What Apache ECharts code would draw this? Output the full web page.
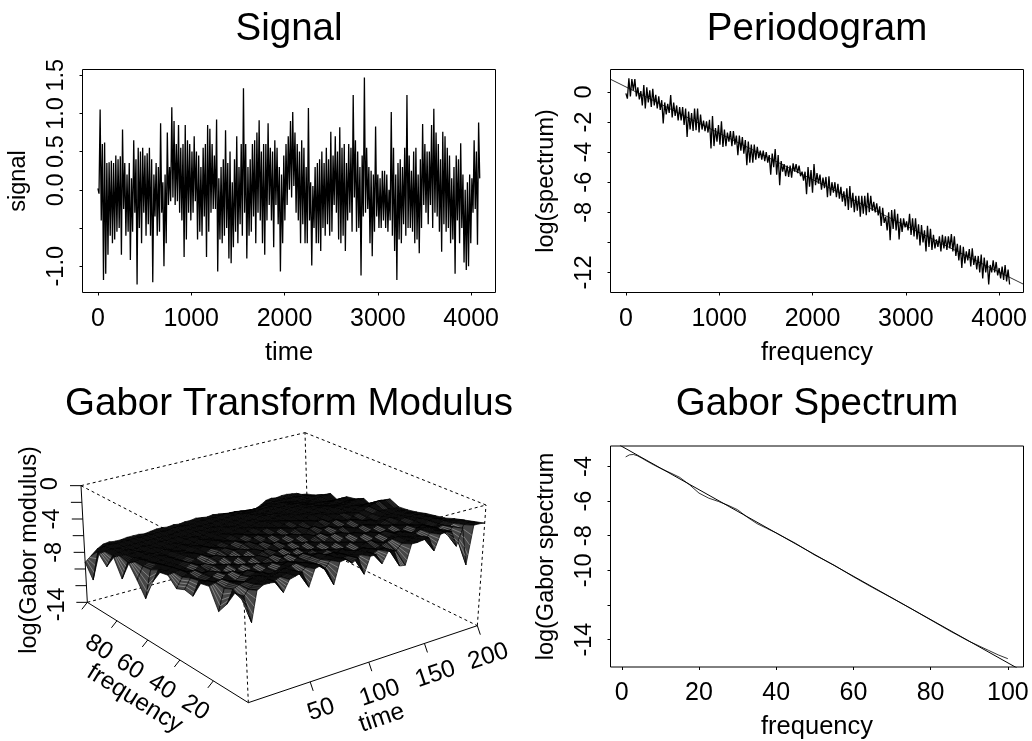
<!DOCTYPE html>
<html><head><meta charset="utf-8">
<style>html,body{margin:0;padding:0;background:#fff}#c{width:1032px;height:741px}</style>
<script src="https://cdn.jsdelivr.net/npm/echarts@6/dist/echarts.min.js"></script>
</head><body><div id="c"></div>
<script>
// ---------- data ----------
const signalStep = 24;
const signalHigh = [
0.02,1.05,0.6,0.62,0.35,0.36,0.38,0.35,0.45,0.4,
0.44,0.79,0.35,0.2,0.35,0.15,0.65,0.4,0.55,0.5,
0.55,0.45,0.48,0.55,0.4,0.2,0.35,0.3,0.87,0.1,
0.2,0.75,0.3,1.08,0.9,0.6,0.85,0.55,0.6,0.85,
0.65,0.6,0.5,0.7,0.5,0.45,0.3,0.55,0.6,0.85,
0.8,0.6,0.45,0.92,0.15,0.3,0.4,0.78,0.35,0.5,
0.1,0.4,0.7,0.3,0.6,1.33,0.6,0.3,0.4,0.6,
0.65,0.75,0.91,0.5,0.6,0.6,0.87,0.55,0.5,0.65,
0.55,0.3,0.2,0.45,0.6,0.7,0.9,1.02,0.75,0.6,
0.5,0.65,0.55,0.3,1.07,0.1,0.05,0.3,0.35,0.4,
0.5,0.35,0.55,0.4,0.76,0.45,0.7,0.5,0.82,0.55,
0.6,0.35,0.6,0.55,1.24,0.65,0.5,0.3,0.45,1.47,
0.55,0.3,0.25,0.2,0.83,0.2,0.15,0.25,0.25,0.2,
0.0,1.02,0.55,0.2,0.35,0.4,0.3,0.55,1.24,0.45,
0.25,0.5,0.55,0.2,0.4,0.86,0.6,0.5,0.5,0.85,
1.06,0.75,0.6,0.4,0.76,0.7,0.55,0.45,0.15,0.3,
0.45,0.4,0.61,0.2,0.0,0.1,0.2,0.15,0.65,0.5,
0.88];
const signalLow = [
-0.05,-0.4,-1.18,-1.1,-0.85,-0.6,-0.7,-0.65,-0.55,-0.5,
-0.85,-0.25,-0.6,-0.55,-0.92,-0.55,-0.3,-1.24,-0.5,-0.7,
-0.3,-0.6,-0.45,-0.6,-1.21,-0.35,-0.6,-0.55,-0.3,-1.0,
-0.7,-0.2,-0.15,-0.1,-0.2,-0.15,-0.3,-0.4,-0.88,-0.65,
-0.3,-0.4,-0.3,-0.15,-0.65,-0.55,-0.6,-0.35,-0.88,-0.55,
-0.3,-0.25,-0.25,-1.07,-0.65,-0.7,-0.6,-0.5,-0.9,-0.96,
-0.75,-0.55,-0.7,-0.45,-0.6,-0.3,-0.9,-0.6,-0.55,-0.35,
-0.7,-0.3,-0.4,-0.7,-0.85,-0.4,-0.2,-0.4,-0.75,-0.2,
-0.45,-1.07,-0.7,-0.4,-0.2,0.0,-0.1,0.05,-0.3,-0.4,
-0.7,-0.45,-0.7,-0.7,-0.4,-0.99,-0.5,-0.7,-0.7,-0.8,
-0.5,-0.6,-0.45,-0.6,-0.55,-0.2,-0.3,-0.65,-0.7,-0.6,
-0.8,-0.4,-0.3,-0.55,-0.1,-0.55,-0.5,-1.12,-0.35,-0.3,
-0.25,-0.7,-0.87,-0.55,-0.35,-0.5,-0.5,-0.4,-0.5,-0.55,
-0.4,-0.6,-0.8,-1.18,-0.65,-0.7,-0.45,-0.6,-0.5,-0.5,
-0.55,-0.7,-0.65,-0.83,-0.5,-0.2,-0.3,-0.45,-0.2,-0.5,
-0.3,-0.35,-0.55,-0.81,-0.45,-0.55,-0.5,-0.7,-0.65,-1.1,
-0.4,-0.7,-0.5,-0.95,-1.05,-1.0,-0.7,-0.3,-0.25,-0.72,
0.15];
const periodStep = 32;
const periodHigh = [
-0.1,0.9,0.85,0.85,0.3,0.05,0.45,0.3,0.1,0.2,
-0.2,-0.3,-0.55,-0.7,-0.8,-0.2,-0.7,-0.9,-1.0,-1.0,
-1.1,-1.3,-1.4,-1.1,-1.1,-1.5,-1.9,-1.95,-1.85,-1.6,
-2.4,-2.2,-1.95,-2.5,-2.7,-2.6,-2.6,-2.9,-2.9,-3.0,
-3.2,-3.3,-3.5,-3.5,-3.65,-3.9,-3.9,-4.0,-4.2,-4.1,
-3.8,-4.2,-4.6,-4.8,-4.9,-4.9,-4.75,-4.8,-4.9,-5.3,
-5.3,-5.0,-5.2,-4.8,-5.4,-5.5,-5.7,-5.65,-5.6,-6.0,
-6.0,-6.1,-6.3,-6.6,-6.4,-6.25,-6.7,-6.9,-6.9,-6.9,
-6.9,-6.7,-6.9,-7.3,-7.4,-7.6,-7.7,-8.3,-8.0,-7.85,
-7.8,-8.1,-8.4,-8.4,-8.6,-8.1,-8.4,-8.4,-8.8,-8.85,
-9.2,-8.9,-9.1,-9.5,-9.8,-9.6,-9.5,-9.6,-9.6,-9.45,
-9.6,-10.1,-10.2,-10.3,-10.6,-10.45,-10.4,-10.9,-10.9,-10.8,
-11.0,-11.2,-11.5,-11.2,-11.3,-11.7,-11.6,-11.5,-11.8];
const periodLow = [
-0.45,-0.3,0.1,-0.3,-0.5,-0.9,-1.1,-0.7,-1.0,-0.9,
-1.1,-1.2,-2.1,-1.5,-1.4,-1.7,-1.6,-1.9,-1.9,-2.2,
-3.0,-2.5,-2.6,-2.55,-2.7,-2.5,-2.6,-2.7,-3.75,-3.6,
-3.3,-3.5,-3.65,-3.6,-3.3,-3.6,-3.5,-4.2,-3.9,-4.1,
-4.87,-4.7,-4.7,-4.5,-4.4,-4.5,-4.6,-4.7,-5.5,-5.0,
-5.5,-6.2,-5.3,-5.6,-5.65,-5.7,-5.3,-5.4,-5.6,-5.9,
-6.8,-6.3,-6.7,-6.2,-6.1,-6.5,-6.4,-7.0,-6.9,-6.7,
-7.0,-7.1,-7.3,-7.6,-7.85,-7.7,-8.0,-7.9,-8.3,-8.1,
-8.2,-8.0,-7.9,-8.0,-8.2,-8.9,-8.7,-9.2,-9.85,-9.1,
-9.2,-9.8,-9.3,-9.0,-9.2,-9.5,-9.6,-9.8,-10.2,-10.0,
-10.6,-10.3,-10.5,-10.4,-10.3,-10.6,-10.4,-10.5,-10.4,-10.6,
-10.9,-11.2,-11.7,-11.4,-11.2,-11.6,-11.5,-11.8,-12.0,-12.4,
-12.0,-12.8,-12.0,-12.0,-12.2,-12.4,-12.5,-12.6,-12.8];
const periodFitX = [-165, 4261];
const periodFitY = [0.84, -12.78];

const gaborFreq = [1,2,3,4,5,7.5,10,12.5,15,17.5,20,22.5,25,27.5,30,32.5,35,37.5,40,45,50,55,60,65,70,75,80,85,90,95,97.5,100];
const gaborSpec = [-3.45,-3.33,-3.31,-3.38,-3.5,-3.82,-4.11,-4.36,-4.63,-5.05,-5.54,-5.83,-6.02,-6.24,-6.5,-6.93,-7.3,-7.57,-7.84,-8.44,-9.12,-9.7,-10.37,-11.0,-11.6,-12.22,-12.86,-13.5,-14.1,-14.62,-14.88,-15.1];
const gaborFitX = [-0.5, 102.4];
const gaborFitY = [-2.78, -15.64];

// Surface heights: one row per frequency (0,5,...,100), one value per time (0,5,...,200)
const surfTimeStep = 5, surfFreqStep = 5;
const surface = [
[-2.8,-5.8,-2.6,-2.2,-2.2,-2.3,-3.6,-2.4,-2.2,-2.0,-3.8,-2.0,-1.8,-2.6,-4.3,-2.0,-1.9,-2.5,-2.1,-4.1,-2.3,-2.3,-3.5,-2.3,-2.4,-4.3,-4.4,-2.2,-2.2,-2.1,-2.0,-3.7,-2.0,-1.9,-2.0,-3.9,-2.0,-6.4,-2.0,-2.0,-2.1],
[-3.0,-3.9,-3.0,-2.6,-2.5,-2.5,-2.9,-2.6,-2.4,-2.3,-2.9,-2.3,-2.1,-2.4,-3.1,-2.3,-2.2,-2.4,-2.4,-3.0,-2.6,-2.5,-2.9,-2.6,-2.6,-3.2,-3.3,-2.6,-2.5,-2.4,-2.3,-2.9,-2.3,-2.2,-2.3,-3.0,-2.3,-4.0,-2.4,-2.3,-2.4],
[-4.7,-3.3,-3.0,-2.9,-2.7,-2.6,-2.9,-3.1,-2.9,-2.6,-2.5,-2.4,-2.5,-2.8,-3.0,-2.7,-2.4,-2.3,-2.6,-2.9,-3.1,-2.8,-2.7,-3.0,-3.2,-3.0,-2.8,-2.6,-2.5,-2.7,-2.9,-2.7,-2.4,-2.3,-2.5,-2.8,-2.6,-3.0,-2.7,-2.5,-2.7],
[-6.0,-3.7,-3.2,-3.4,-3.6,-3.2,-2.9,-3.1,-3.5,-3.4,-2.9,-2.7,-2.9,-3.3,-3.2,-2.8,-2.7,-3.1,-3.5,-3.2,-2.9,-3.3,-3.6,-3.3,-2.9,-2.9,-3.3,-3.5,-3.1,-2.8,-2.7,-3.0,-3.3,-2.9,-2.7,-3.0,-3.3,-3.1,-2.9,-3.0,-3.0],
[-3.8,-3.6,-3.4,-3.8,-4.0,-3.5,-3.2,-3.6,-3.9,-3.5,-3.1,-3.3,-3.7,-3.8,-3.3,-3.0,-3.3,-3.8,-3.7,-3.3,-3.5,-3.9,-3.6,-3.2,-3.4,-3.8,-3.9,-3.4,-3.1,-3.0,-3.4,-3.7,-3.4,-3.0,-3.2,-3.6,-3.5,-3.2,-3.1,-3.3,-3.4],
[-4.0,-3.9,-4.2,-4.3,-3.8,-3.6,-4.0,-4.3,-3.8,-3.5,-3.7,-4.1,-4.1,-3.6,-3.4,-3.8,-4.2,-3.9,-3.6,-3.9,-4.2,-3.9,-3.5,-3.7,-4.1,-4.2,-3.7,-3.4,-3.4,-3.8,-4.0,-3.6,-3.3,-3.5,-3.9,-3.8,-3.5,-3.4,-3.3,-3.5,-3.6],
[-5.9,-4.4,-4.6,-4.4,-4.0,-4.3,-4.7,-4.3,-3.9,-4.1,-4.5,-4.3,-3.9,-3.8,-4.2,-4.5,-4.1,-3.8,-4.2,-4.5,-4.2,-3.8,-4.0,-4.4,-4.5,-4.0,-3.7,-3.8,-4.2,-4.3,-3.9,-3.6,-3.8,-4.2,-4.1,-3.8,-3.6,-3.7,-3.6,-3.7,-3.8],
[-5.7,-4.6,-4.9,-4.5,-4.4,-4.9,-4.8,-4.2,-4.5,-4.9,-4.6,-4.1,-4.2,-4.7,-4.7,-4.3,-4.1,-4.5,-4.8,-4.4,-4.1,-4.3,-4.7,-4.7,-4.2,-4.0,-4.1,-4.6,-4.6,-4.1,-3.9,-4.1,-4.5,-4.4,-4.0,-3.9,-4.1,-4.0,-3.9,-4.0,-4.1],
[-6.1,-5.0,-4.8,-4.6,-5.1,-5.2,-4.6,-4.8,-5.2,-4.9,-4.4,-4.6,-5.1,-4.9,-4.5,-4.5,-4.9,-5.0,-4.6,-4.4,-4.7,-5.0,-4.8,-4.4,-4.3,-4.7,-4.9,-4.4,-4.2,-4.5,-4.8,-4.5,-4.2,-4.3,-4.6,-4.3,-4.2,-4.3,-4.1,-4.2,-4.3],
[-5.1,-5.0,-4.9,-5.3,-5.5,-5.0,-5.0,-5.5,-5.2,-4.7,-4.9,-5.4,-5.2,-4.7,-4.8,-5.3,-5.3,-4.8,-4.7,-5.1,-5.3,-4.9,-4.6,-4.7,-5.1,-5.1,-4.7,-4.5,-4.8,-5.1,-4.7,-4.4,-4.6,-4.9,-4.6,-4.4,-4.2,-4.3,-4.3,-4.4,-4.4],
[-5.3,-5.3,-5.1,-5.6,-5.6,-5.2,-5.6,-5.7,-5.1,-5.1,-5.6,-5.5,-5.0,-5.1,-5.6,-5.5,-5.1,-5.0,-5.4,-5.6,-5.2,-4.9,-5.0,-5.4,-5.4,-4.9,-4.8,-5.2,-5.3,-4.9,-4.7,-5.0,-5.2,-4.8,-4.6,-4.4,-4.1,-3.9,-3.8,-3.9,-3.9],
[-6.9,-5.7,-5.4,-5.8,-5.7,-5.5,-6.0,-5.6,-5.3,-5.7,-5.9,-5.3,-5.3,-5.8,-5.8,-5.3,-5.3,-5.7,-5.8,-5.4,-5.2,-5.4,-5.8,-5.6,-5.1,-5.2,-5.6,-5.5,-5.0,-5.0,-5.4,-5.3,-4.9,-4.9,-5.0,-4.8,-4.6,-4.5,-4.5,-4.5,-4.5],
[-9.3,-6.2,-5.7,-6.0,-6.0,-5.8,-6.1,-5.8,-5.6,-6.0,-6.0,-5.6,-5.7,-6.1,-5.8,-5.5,-5.8,-6.1,-5.7,-5.5,-5.7,-6.0,-5.7,-5.4,-5.6,-5.9,-5.6,-5.3,-5.4,-5.7,-5.5,-5.2,-5.3,-5.4,-5.1,-5.0,-5.0,-5.1,-5.3,-5.5,-5.7],
[-7.7,-6.3,-6.0,-6.3,-6.2,-6.0,-6.3,-6.0,-6.1,-6.3,-6.0,-5.9,-6.2,-6.2,-5.9,-6.0,-6.3,-6.1,-5.8,-6.0,-6.2,-5.9,-5.7,-5.9,-6.1,-5.8,-5.6,-5.7,-5.9,-5.7,-5.5,-5.6,-5.6,-5.4,-5.3,-5.3,-5.3,-5.2,-5.1,-5.1,-5.2],
[-6.3,-6.3,-6.2,-6.5,-6.3,-6.3,-6.5,-6.2,-6.4,-6.5,-6.2,-6.3,-6.5,-6.3,-6.2,-6.4,-6.4,-6.1,-6.2,-6.4,-6.2,-6.0,-6.2,-6.3,-6.0,-5.9,-6.0,-6.2,-5.9,-5.8,-5.9,-5.9,-5.7,-5.6,-5.6,-5.7,-5.8,-5.8,-5.7,-5.7,-5.7],
[-8.6,-6.9,-6.5,-6.7,-6.5,-6.6,-6.7,-6.5,-6.7,-6.6,-6.5,-6.7,-6.6,-6.4,-6.6,-6.7,-6.4,-6.5,-6.6,-6.4,-6.3,-6.5,-6.4,-6.2,-6.2,-6.3,-6.2,-6.1,-6.1,-6.2,-6.1,-6.0,-5.9,-6.0,-6.0,-6.1,-6.1,-6.0,-5.9,-5.9,-5.9],
[-6.6,-6.6,-6.7,-6.7,-6.7,-6.9,-6.7,-6.8,-6.9,-6.7,-6.8,-6.9,-6.7,-6.6,-6.8,-6.8,-6.6,-6.7,-6.7,-6.5,-6.6,-6.6,-6.5,-6.4,-6.5,-6.3,-6.3,-6.4,-6.4,-6.4,-6.3,-6.2,-6.2,-6.2,-6.3,-6.4,-6.4,-6.5,-6.6,-6.7,-6.9],
[-8.2,-7.1,-6.9,-6.8,-7.0,-7.0,-6.9,-7.0,-6.9,-6.9,-7.0,-6.9,-6.9,-7.0,-6.9,-6.8,-6.9,-6.8,-6.8,-6.9,-6.8,-6.7,-6.7,-6.6,-6.5,-6.5,-6.6,-6.7,-6.6,-6.5,-6.5,-6.5,-6.4,-6.5,-6.6,-6.7,-6.7,-6.6,-6.5,-6.4,-6.4],
[-7.2,-7.1,-7.0,-7.1,-7.1,-7.1,-7.1,-7.1,-7.1,-7.1,-7.1,-7.1,-7.1,-7.0,-7.0,-7.0,-7.0,-7.0,-7.0,-7.0,-6.9,-6.9,-6.8,-6.7,-6.7,-6.8,-6.9,-6.9,-6.9,-6.8,-6.8,-6.7,-6.7,-6.8,-6.9,-7.0,-7.0,-7.0,-6.9,-6.9,-7.0],
[-10.8,-7.6,-7.2,-7.1,-7.2,-7.2,-7.2,-7.2,-7.2,-7.2,-7.2,-7.2,-7.2,-7.2,-7.1,-7.1,-7.2,-7.2,-7.1,-7.1,-7.1,-7.1,-7.0,-7.0,-7.1,-7.1,-7.2,-7.3,-7.3,-7.3,-7.2,-7.1,-7.0,-7.0,-7.0,-7.1,-7.1,-7.2,-7.3,-7.4,-7.5],
[-9.2,-8.6,-8.0,-7.6,-7.5,-7.6,-7.6,-7.5,-7.5,-7.5,-7.6,-7.5,-7.4,-7.4,-7.5,-7.4,-7.5,-7.4,-7.4,-7.3,-7.4,-7.5,-7.4,-7.5,-7.6,-7.7,-7.7,-7.8,-7.9,-8.0,-8.0,-7.7,-7.3,-7.2,-7.3,-7.2,-7.2,-7.3,-7.4,-7.7,-7.8]
];
const zTicks = [0,-2,-4,-6,-8,-10,-12,-14];
const zLabels = ['0','-4','-8','-14'];
const timeTicks3d = [50,100,150,200];
const freqTicks3d = [20,40,60,80,100];
const freqLabels3d = [20,40,60,80];
const xTicksLong = [0,1000,2000,3000,4000];
const xTicksShort = [0,20,40,60,80,100];

// ---------- presentation ----------
const FONT = '"Liberation Sans", Arial, sans-serif';
const tickX = 25, tickY = 23.5, nameX = 25.5, nameY = 23.5, titleSize = 38.5, tick3d = 24.5;
const corners = {
  f0b:[248.33,702.67], r0b:[477.33,625.67], l0b:[87.33,602.33], k0b:[308.33,542.67],
  f0t:[242.67,569.33], r0t:[486,505],       l0t:[81,485.67],    k0t:[305,432.67]
};
const warp = s => s*1.11/(1+0.11*s);
function project(t,f,z){
  const u=warp(t/200), v=warp(f/100), w=(z+14)/14;
  const mix=(a,b,s)=>[a[0]+(b[0]-a[0])*s,a[1]+(b[1]-a[1])*s];
  const bot=mix(mix(corners.f0b,corners.r0b,u),mix(corners.l0b,corners.k0b,u),v);
  const top=mix(mix(corners.f0t,corners.r0t,u),mix(corners.l0t,corners.k0t,u),v);
  return mix(bot,top,w);
}
const zigzag=(hi,lo,step)=>{const o=[];hi.forEach((h,i)=>{o.push([i*step,h]);o.push([i*step+step/2,lo[i]]);});return o;};
const pairs=(xs,ys)=>xs.map((x,i)=>[x,ys[i]]);

function xAx(idx,min,max,ticks,name,gap){return {type:'value',gridIndex:idx,min,max,name,nameLocation:'middle',nameGap:gap,
  nameTextStyle:{fontFamily:FONT,fontSize:nameX,color:'#000'},splitLine:{show:false},axisLine:{show:false,onZero:false},
  axisTick:{show:true,length:3,customValues:ticks,lineStyle:{color:'#000',width:1}},
  axisLabel:{customValues:ticks,margin:14,fontFamily:FONT,fontSize:tickX,color:'#000',formatter:v=>String(v)}};}
function yAx(idx,min,max,ticks,labels,name,gap,fmt){return {type:'value',gridIndex:idx,min,max,name,nameLocation:'middle',nameGap:gap,
  nameTextStyle:{fontFamily:FONT,fontSize:nameY,color:'#000'},splitLine:{show:false},axisLine:{show:false,onZero:false},
  axisTick:{show:true,length:3,customValues:ticks,lineStyle:{color:'#000',width:1}},
  axisLabel:{customValues:labels,rotate:90,margin:14,fontFamily:FONT,fontSize:tickY,color:'#000',formatter:fmt||(v=>String(v))}};}
const box=(left,top,w,h)=>({left,top,width:w,height:h,show:true,borderColor:'#000',borderWidth:1,backgroundColor:'transparent',containLabel:false});
const ln=(x,y,data,w)=>({type:'line',xAxisIndex:x,yAxisIndex:y,data,showSymbol:false,symbol:'none',silent:true,animation:false,lineStyle:{color:'#000',width:w}});
const title=(text,x,y)=>({text,left:x,top:y,textAlign:'center',textStyle:{fontFamily:FONT,fontSize:titleSize,fontWeight:'normal',color:'#000'}});

// 3D panel series
const txt=(x,y,s,rot,size)=>({type:'text',x,y,rotation:rot*Math.PI/180,style:{text:s,fontFamily:FONT,fontSize:size||tick3d,fill:'#000',align:'center',verticalAlign:'middle'}});
const seg=(api,a,b,style)=>{const p=api.coord(a),q=api.coord(b);return {type:'line',shape:{x1:p[0],y1:p[1],x2:q[0],y2:q[1]},style};};
const dashedEdges=[[[0,100,0],[200,100,0]],[[200,100,0],[200,0,0]],[[0,100,0],[0,0,0]],[[0,0,0],[200,0,0]],
  [[0,100,-14],[200,100,-14]],[[200,100,-14],[200,0,-14]],[[0,0,-14],[0,0,0]],[[200,100,-14],[200,100,0]],[[200,0,-14],[200,0,0]]];
const dashSt={stroke:'#000',lineWidth:1,lineDash:[3,3]};
const solidSt={stroke:'#000',lineWidth:1};
const boxSeries={type:'custom',coordinateSystem:'cartesian2d',xAxisIndex:3,yAxisIndex:3,silent:true,animation:false,z:1,clip:false,
  data:dashedEdges.map((e,i)=>[i]),
  renderItem:(p,api)=>{const e=dashedEdges[p.dataIndex];return seg(api,project(...e[0]),project(...e[1]),dashSt);}};
const quads=[];
for(let r=surface.length-2;r>=0;r--)for(let c=surface[0].length-2;c>=0;c--)quads.push([c,r]);
const surfSeries={type:'custom',coordinateSystem:'cartesian2d',xAxisIndex:3,yAxisIndex:3,silent:true,animation:false,z:2,clip:false,
  data:quads,
  renderItem:(p,api)=>{
    const [c,r]=quads[p.dataIndex];
    const P=(cc,rr)=>api.coord(project(cc*surfTimeStep,rr*surfFreqStep,surface[rr][cc]));
    const a=P(c,r),b=P(c+1,r),d=P(c+1,r+1),e=P(c,r+1);
    const area=Math.abs((d[0]-a[0])*(e[1]-b[1])-(d[1]-a[1])*(e[0]-b[0]))/2;
    const g=Math.round(Math.min(70,14+Math.max(0,area-52)*1.2));
    const fill=`rgb(${g},${g},${g})`;
    const op=Math.max(0,Math.min(0.55,(area-46)/40));
    const kids=[{type:'polygon',shape:{points:[a,b,d,e]},style:{fill,stroke:'#000',lineWidth:0.7}}];
    if(op>0)for(const s of [0.25,0.5,0.75]){
      const m=(A,B)=>[A[0]+(B[0]-A[0])*s,A[1]+(B[1]-A[1])*s];
      const A=m(a,b),B=m(e,d);
      kids.push({type:'line',shape:{x1:A[0],y1:A[1],x2:B[0],y2:B[1]},style:{stroke:'#fff',opacity:op,lineWidth:0.6}});
    }
    return {type:'group',children:kids};
  }};
const axisItems=[];
zTicks.forEach(z=>axisItems.push({k:'z',v:z}));
timeTicks3d.forEach(t=>axisItems.push({k:'t',v:t}));
freqTicks3d.forEach(f=>axisItems.push({k:'f',v:f}));
const axisSeries={type:'custom',coordinateSystem:'cartesian2d',xAxisIndex:3,yAxisIndex:3,silent:true,animation:false,z:3,clip:false,
  data:axisItems.map((a,i)=>[i]),
  renderItem:(p,api)=>{
    const a=axisItems[p.dataIndex];const kids=[];const add=(P,dx,dy)=>{const q=api.coord(P),w=api.coord([P[0]+dx,P[1]+dy]);kids.push({type:'line',shape:{x1:q[0],y1:q[1],x2:w[0],y2:w[1]},style:solidSt});};
    if(a.k==='z'){const P=project(0,100,a.v);add(P,-11,0);
      if(zLabels.includes(String(a.v))){const q=api.coord(P);kids.push(txt(q[0]-30,q[1]+(a.v===-14?2:a.v===0?-2:0),String(a.v),90,23.5));}}
    if(a.k==='t'){const P=project(a.v,0,-14);add(P,3,9);const q=api.coord(P);kids.push(txt(q[0]+11,q[1]+(a.v===50?28:31),String(a.v),18.6));}
    if(a.k==='f'){const P=project(0,a.v,-14);add(P,-5.5,7);
      if(freqLabels3d.includes(a.v)){const q=api.coord(P);kids.push(txt(q[0]-18,q[1]+27,String(a.v),-32));}}
    return {type:'group',children:kids};
  }};
const frameSeries={type:'custom',coordinateSystem:'cartesian2d',xAxisIndex:3,yAxisIndex:3,silent:true,animation:false,z:3,clip:false,
  data:[[0]],
  renderItem:(p,api)=>{
    const P=(a,b,c)=>project(a,b,c);
    const f=api.coord(P(0,50,-14)),t=api.coord(P(100,0,-14));
    return {type:'group',children:[
      seg(api,P(0,0,-14),P(200,0,-14),solidSt),seg(api,P(0,0,-14),P(0,100,-14),solidSt),seg(api,P(0,100,-14),P(0,100,0),solidSt),
      txt(f[0]-29,f[1]+49,'frequency',-32),txt(t[0]+13,t[1]+56,'time',18.6),txt(30,550,'log(Gabor modulus)',90,23.5)]};
  }};

const option={animation:false,backgroundColor:'#fff',
 title:[title('Signal',284,5),title('Periodogram',812,5),title('Gabor Transform Modulus',284,380),title('Gabor Spectrum',812,380)],
 grid:[box(82.5,69.5,413,223),box(610.5,69.5,413,223),box(610.5,446,413,223),
   {left:0,top:0,width:1032,height:741,show:false}],
 xAxis:[
  xAx(0,-165,4261,xTicksLong,'time',47),
  xAx(1,-165,4261,xTicksLong,'frequency',47),
  xAx(2,-2.93,104.06,xTicksShort,'frequency',47),
  {type:'value',gridIndex:3,min:0,max:1032,show:false}],
 yAxis:[
  yAx(0,-1.344,1.575,[-1,-0.5,0,0.5,1,1.5],[-1,0,0.5,1,1.5],'signal',52,v=>v.toFixed(1)),
  yAx(1,-13.33,1.49,[0,-2,-4,-6,-8,-10,-12],[0,-2,-4,-6,-8,-12],'log(spectrum)',52),
  yAx(2,-15.58,-2.82,[-4,-6,-8,-10,-12,-14],[-4,-6,-8,-10,-14],'log(Gabor spectrum',52),
  {type:'value',gridIndex:3,min:0,max:741,inverse:true,show:false}],
 series:[
  ln(0,0,zigzag(signalHigh,signalLow,signalStep),1.3),
  ln(1,1,zigzag(periodHigh,periodLow,periodStep),1.3),
  ln(1,1,pairs(periodFitX,periodFitY),0.8),
  ln(2,2,pairs(gaborFitX,gaborFitY),1),
  ln(2,2,pairs(gaborFreq,gaborSpec),0.8),
  boxSeries,surfSeries,axisSeries,frameSeries]
};
echarts.init(document.getElementById('c'),null,{renderer:'canvas'}).setOption(option);
</script></body></html>
